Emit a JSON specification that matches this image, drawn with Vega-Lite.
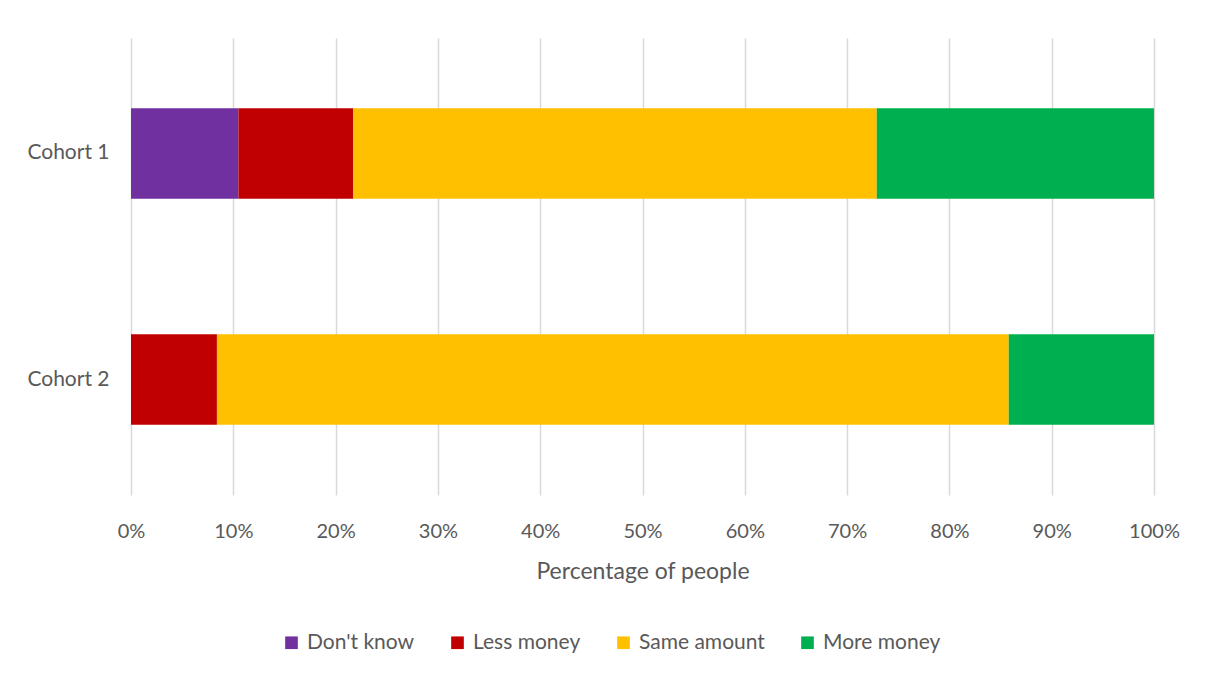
{
  "$schema": "https://vega.github.io/schema/vega-lite/v6.json",
  "width": 1023,
  "height": 457,
  "autosize": {"type": "none"},
  "padding": {"left": 131, "top": 38, "right": 51, "bottom": 178},
  "background": "white",
  "config": {
    "font": "Lato",
    "view": {"stroke": null},
    "axis": {"labelColor": "#595959", "titleColor": "#595959", "labelFont": "Lato", "titleFont": "Lato"}
  },
  "data": {
    "values": [
      {"cohort": "Cohort 1", "response": "Don't know", "order": 1, "pct": 10.5},
      {"cohort": "Cohort 1", "response": "Less money", "order": 2, "pct": 11.2},
      {"cohort": "Cohort 1", "response": "Same amount", "order": 3, "pct": 51.2},
      {"cohort": "Cohort 1", "response": "More money", "order": 4, "pct": 27.1},
      {"cohort": "Cohort 2", "response": "Don't know", "order": 1, "pct": 0},
      {"cohort": "Cohort 2", "response": "Less money", "order": 2, "pct": 8.4},
      {"cohort": "Cohort 2", "response": "Same amount", "order": 3, "pct": 77.4},
      {"cohort": "Cohort 2", "response": "More money", "order": 4, "pct": 14.2}
    ]
  },
  "mark": {"type": "bar"},
  "encoding": {
    "y": {
      "field": "cohort",
      "type": "nominal",
      "scale": {"paddingInner": 0.6, "paddingOuter": 0.31},
      "axis": {"title": null, "domain": false, "ticks": false, "labelFontSize": 21, "labelPadding": 22}
    },
    "x": {
      "field": "pct",
      "type": "quantitative",
      "stack": "normalize",
      "scale": {"domain": [0, 1]},
      "axis": {
        "title": "Percentage of people",
        "titleFontSize": 23,
        "titleFontWeight": "normal",
        "titlePadding": 19,
        "format": ".0%",
        "values": [0, 0.1, 0.2, 0.3, 0.4, 0.5, 0.6, 0.7, 0.8, 0.9, 1],
        "domain": false,
        "ticks": false,
        "grid": true,
        "gridColor": "#d9d9d9",
        "gridWidth": 1.5,
        "labelFlush": false,
        "labelFontSize": 20,
        "labelPadding": 26
      }
    },
    "color": {
      "field": "response",
      "type": "nominal",
      "sort": ["Don't know", "Less money", "Same amount", "More money"],
      "scale": {
        "domain": ["Don't know", "Less money", "Same amount", "More money"],
        "range": ["#7030a0", "#c00000", "#ffc000", "#00b050"]
      },
      "legend": {
        "title": null,
        "orient": "none",
        "direction": "horizontal",
        "legendX": 150,
        "legendY": 594,
        "symbolType": "square",
        "symbolSize": 160,
        "symbolStrokeWidth": 0,
        "labelFontSize": 21,
        "labelColor": "#595959",
        "labelOffset": 5,
        "columnPadding": 32
      }
    },
    "order": {"field": "order", "type": "quantitative"}
  }
}
